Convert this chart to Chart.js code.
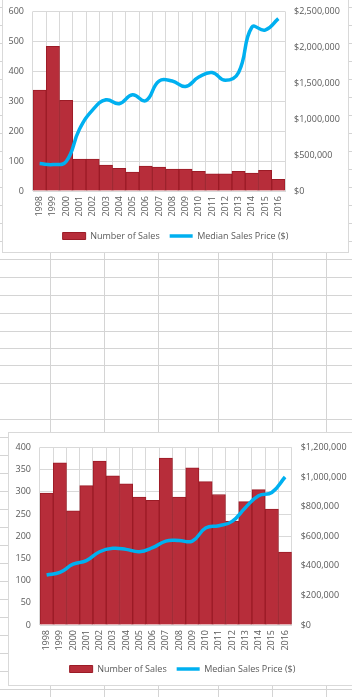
<!DOCTYPE html>
<html>
<head>
<meta charset="utf-8">
<script src="https://cdn.jsdelivr.net/npm/chart.js@4.4.0/dist/chart.umd.min.js"></script>
<style>
  body { margin: 0; width: 352px; height: 697px; overflow: hidden; background: #fff; position: relative; }
  #sheet { position: absolute; left: 0; top: 0; width: 352px; height: 697px; }
  .hl { position: absolute; left: 0; width: 352px; height: 1px; background: #d4d4d4; }
  .vl { position: absolute; top: 0; width: 1px; height: 697px; background: #d4d4d4; }
  .box { position: absolute; background: #fff; border: 1px solid #d9d9d9; }
  .box canvas { display: block; }
</style>
</head>
<body>
<div id="sheet"></div>
<div class="box" style="left:2px; top:-4px; width:345px; height:255px;">
  <canvas id="topChart" width="345" height="255"></canvas>
</div>
<div class="box" style="left:8px; top:432px; width:347px; height:252px;">
  <canvas id="bottomChart" width="347" height="252"></canvas>
</div>
<script>
const years = ["1998", "1999", "2000", "2001", "2002", "2003", "2004", "2005", "2006", "2007",
               "2008", "2009", "2010", "2011", "2012", "2013", "2014", "2015", "2016"];

// top chart
const salesTop = [337, 483, 303, 107, 107, 87, 76, 63, 83, 80, 73, 73, 66, 57, 57, 66, 60, 69, 39];
const priceTop = [382000, 368000, 410000, 860000, 1130000, 1270000, 1215000, 1340000, 1257000, 1530000,
                  1530000, 1455000, 1586000, 1650000, 1540000, 1650000, 2280000, 2240000, 2400000];

// bottom chart
const salesBottom = [297, 365, 257, 314, 369, 336, 318, 288, 281, 376, 288, 354, 323, 294, 234, 278, 305, 261, 164];
const priceBottom = [338000, 355000, 411000, 435000, 495000, 518000, 511000, 495000, 522000, 567000,
                     571000, 567000, 655000, 671000, 700000, 793000, 873000, 895000, 1000000];

// spreadsheet cells behind the charts
const sheetRows = [7, 25, 43, 61, 79, 97, 115, 133, 151, 169, 187, 205, 223, 241, 259, 277, 295, 313, 331,
                   348, 365, 383, 419, 437, 455, 473, 491, 509, 527, 545, 563, 581, 599, 617, 635, 653, 671, 689];
const sheetCols = [50, 104, 158, 218, 272, 326];

const sheet = document.getElementById("sheet");
sheetRows.forEach(y => {
  const d = document.createElement("div");
  d.className = "hl";
  d.style.top = y + "px";
  sheet.appendChild(d);
});
sheetCols.forEach(x => {
  const d = document.createElement("div");
  d.className = "vl";
  d.style.left = x + "px";
  sheet.appendChild(d);
});

Chart.defaults.font.family = "'Open Sans', sans-serif";
Chart.defaults.font.size = 9;
Chart.defaults.color = "#595959";
Chart.defaults.animation = false;

function money(v) {
  return "$" + Number(v).toLocaleString("en-US");
}

function makeChart(id, sales, price, opts) {
  const ctx = document.getElementById(id).getContext("2d");
  return new Chart(ctx, {
    type: "bar",
    data: {
      labels: years,
      datasets: [
        {
          type: "line",
          label: "Median Sales Price ($)",
          data: price,
          yAxisID: "y1",
          borderColor: "#00B0F0",
          backgroundColor: "#00B0F0",
          borderWidth: 3.5,
          pointRadius: 0,
          tension: 0.45,
          fill: false,
        },
        {
          label: "Number of Sales",
          data: sales,
          yAxisID: "y",
          backgroundColor: "#B72D3A",
          borderColor: "#9B1B26",
          borderWidth: 1,
          barPercentage: 1,
          categoryPercentage: 1,
        },
      ],
    },
    options: {
      responsive: false,
      layout: { padding: { left: 0, right: 0, top: opts.top, bottom: 1.5 } },
      plugins: {
        tooltip: { enabled: false },
        legend: {
          position: "bottom",
          labels: {
            usePointStyle: true,
            pointStyleWidth: 23,
            boxHeight: 7,
            padding: 10,
            color: "#595959",
            sort: (a, b) => b.datasetIndex - a.datasetIndex,
            generateLabels(chart) {
              const items = Chart.defaults.plugins.legend.labels.generateLabels(chart);
              items.forEach(it => {
                it.pointStyle = it.datasetIndex === 0 ? "line" : "rect";
              });
              return items;
            },
          },
        },
      },
      scales: {
        x: {
          offset: true,
          grid: { color: "#d9d9d9", drawTicks: false, offset: true },
          border: { color: "#d9d9d9" },
          ticks: { minRotation: 90, maxRotation: 90, padding: 5, autoSkip: false },
          afterFit: s => { s.height = opts.xHeight; },
        },
        y: {
          position: "left",
          min: 0,
          max: opts.salesMax,
          grid: { color: "#d9d9d9", drawTicks: false },
          border: { display: false },
          ticks: { stepSize: opts.salesStep, padding: 9 },
          afterFit: s => { s.width = opts.leftW; },
        },
        y1: {
          position: "right",
          min: 0,
          max: opts.priceMax,
          grid: { display: false, drawTicks: false },
          border: { display: false },
          ticks: { stepSize: opts.priceStep, padding: 9, callback: money },
          afterFit: s => { s.width = opts.rightW; },
        },
      },
    },
  });
}

makeChart("topChart", salesTop, priceTop, {
  top: 13.7, xHeight: 30.5, leftW: 30, rightW: 63,
  salesMax: 600, salesStep: 100, priceMax: 2500000, priceStep: 500000,
});

makeChart("bottomChart", salesBottom, priceBottom, {
  top: 11.3, xHeight: 29.5, leftW: 31, rightW: 64.3,
  salesMax: 400, salesStep: 50, priceMax: 1200000, priceStep: 200000,
});
</script>
</body>
</html>
